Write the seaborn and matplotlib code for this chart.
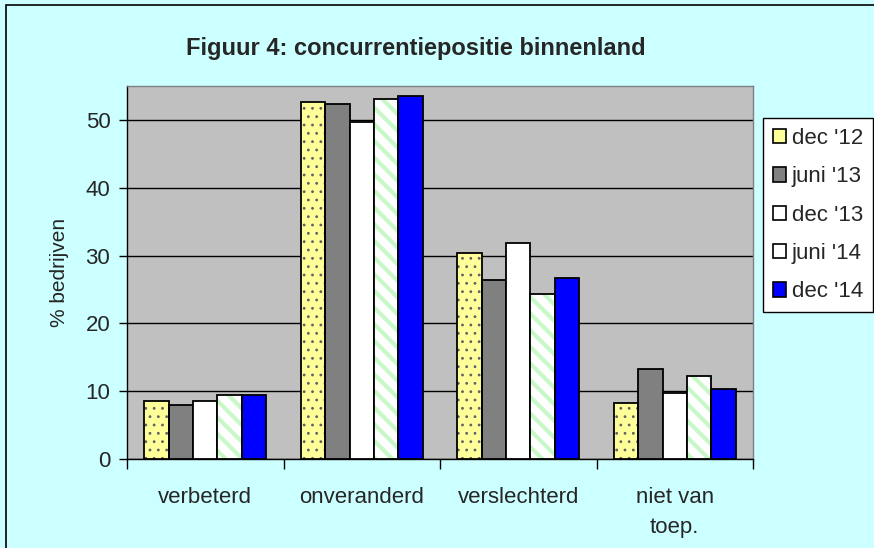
import matplotlib
matplotlib.use("Agg")
import matplotlib.pyplot as plt
import matplotlib.patches as mpatches
import seaborn as sns
import pandas as pd

# data
categories = ["verbeterd", "onveranderd", "verslechterd", "niet van\ntoep."]
periods = ["dec '12", "juni '13", "dec '13", "juni '14", "dec '14"]
dec12 = [8.6, 52.6, 30.4, 8.3]
juni13 = [8.0, 52.3, 26.4, 13.2]
dec13 = [8.6, 49.7, 31.9, 9.8]
juni14 = [9.4, 53.1, 24.4, 12.3]
dec14 = [9.4, 53.5, 26.7, 10.3]
series = [dec12, juni13, dec13, juni14, dec14]
yticks = [0, 10, 20, 30, 40, 50]

# styling
BG = "#CCFFFF"
PLOT_BG = "#C0C0C0"
fills = ["#FFFF99", "#808080", "#FFFFFF", "#FFFFFF", "#0000FF"]
hatches = ["..", None, None, "\\\\", None]
hatch_cols = ["#606060", None, None, "#C8F8C8", None]

rows = []
for p, vals in zip(periods, series):
    for c, v in zip(categories, vals):
        rows.append({"cat": c, "period": p, "val": v})
df = pd.DataFrame(rows)

sns.set_style("white")
plt.rcParams["font.family"] = ["Liberation Sans", "DejaVu Sans"]
plt.rcParams["hatch.linewidth"] = 3.0

fig = plt.figure(figsize=(8.74, 5.48), dpi=100, facecolor=BG)
ax = fig.add_axes([127 / 874, 1 - 459 / 548, 626 / 874, 373 / 548])
ax.set_facecolor(PLOT_BG)

sns.barplot(data=df, x="cat", y="val", hue="period", order=categories,
            hue_order=periods, palette=fills, saturation=1, width=0.78,
            edgecolor="black", linewidth=1.3, ax=ax, legend=False, zorder=3)

# hatching: hatch colour follows edge colour, so redraw the outline on top
for cont, h, hc in zip(ax.containers, hatches, hatch_cols):
    if h is None:
        continue
    for bar in cont:
        bar.set_hatch(h)
        bar.set_edgecolor(hc)
        bar.set_linewidth(0)
        if h == "..":
            try:
                bar.set_hatch_linewidth(0.8)
            except AttributeError:
                pass
        ax.add_patch(mpatches.Rectangle(bar.get_xy(), bar.get_width(), bar.get_height(),
                                        fill=False, edgecolor="black", linewidth=1.3, zorder=4))

ax.set_ylim(0, 55)
ax.set_xlim(-0.5, len(categories) - 0.5)
ax.set_yticks(yticks)
ax.set_yticklabels([str(t) for t in yticks], fontsize=16)
ax.yaxis.grid(True, color="black", linewidth=1.0)
ax.set_axisbelow(True)

# category labels between boundary ticks
ax.set_xticks([i - 0.5 for i in range(len(categories) + 1)])
ax.set_xticklabels([])
ax.set_xticks(range(len(categories)), minor=True)
ax.set_xticklabels(categories, minor=True, fontsize=16, linespacing=1.6)
ax.tick_params(axis="x", which="major", direction="out", length=7, width=1, color="black", bottom=True)
ax.tick_params(axis="x", which="minor", length=0, pad=20)
ax.tick_params(axis="y", direction="out", length=6, width=1, color="black", left=True, pad=6)

for s in ["left", "bottom"]:
    ax.spines[s].set_color("black")
    ax.spines[s].set_linewidth(1.0)
for s in ["top", "right"]:
    ax.spines[s].set_color("#808080")
    ax.spines[s].set_linewidth(1.0)

ax.set_xlabel("")
ax.set_ylabel("% bedrijven", fontsize=15, labelpad=12)

fig.text(416 / 874, 1 - 48 / 548, "Figuur 4: concurrentiepositie binnenland",
         ha="center", va="center", fontsize=17, fontweight="bold")

handles = [mpatches.Patch(facecolor=f, edgecolor="black", linewidth=1.2) for f in fills]
leg = fig.legend(handles, periods, loc="upper left",
                 bbox_to_anchor=(763 / 874, 1 - 118 / 548), fontsize=16,
                 frameon=True, fancybox=False, edgecolor="black", facecolor="white",
                 framealpha=1, handlelength=0.6, handleheight=0.6, handletextpad=0.25,
                 labelspacing=0.78, borderpad=0.45, borderaxespad=0)
leg.get_frame().set_linewidth(1.0)

# outer chart border (cut off on the right and bottom)
fig.patches.append(mpatches.Rectangle((6 / 874, -0.05), 1.1, 1 - 5 / 548 + 0.05,
                                      transform=fig.transFigure, fill=False,
                                      edgecolor="black", linewidth=1.2, figure=fig))

fig.savefig("out.png", dpi=100, facecolor=BG)
